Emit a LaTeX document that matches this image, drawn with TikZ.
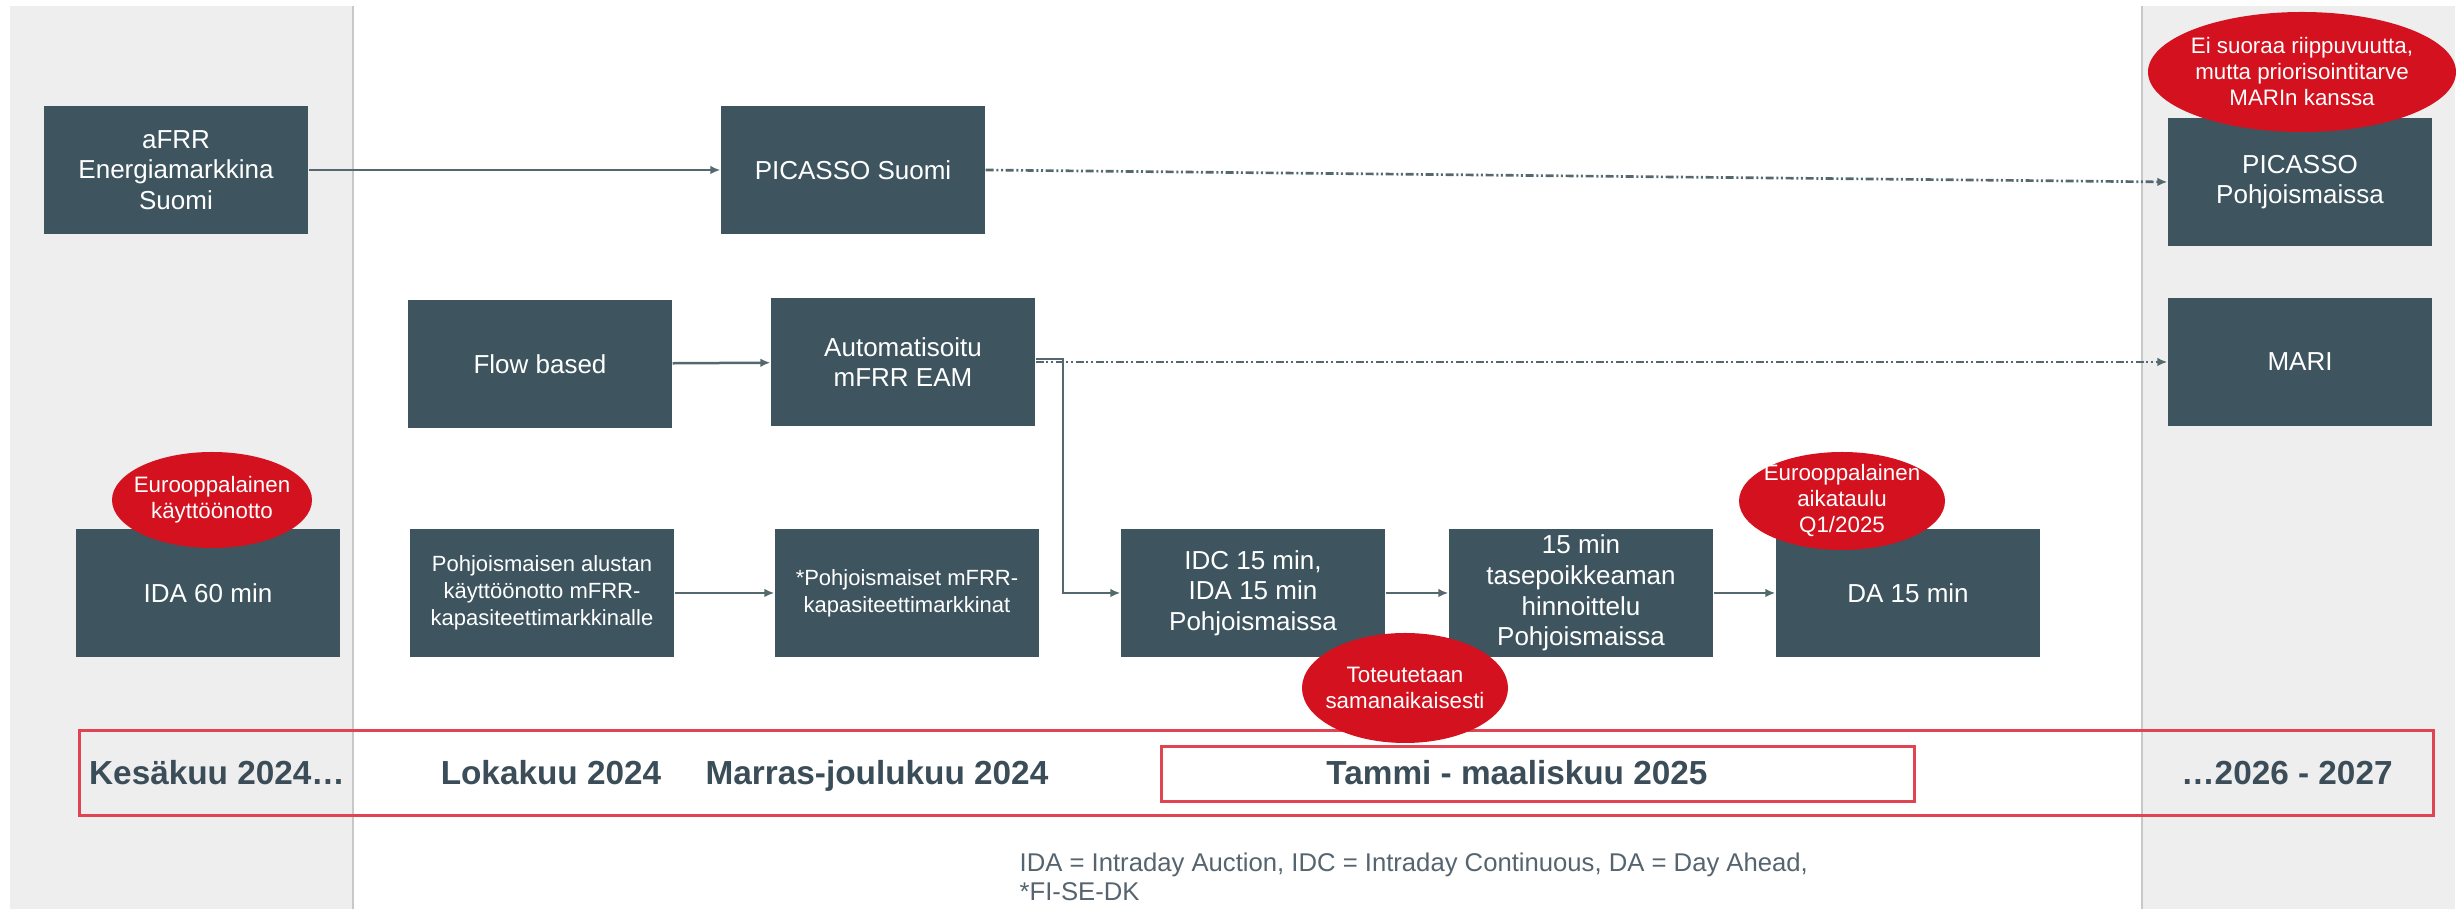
\documentclass[tikz,border=0pt]{standalone}
\usepackage{fontspec}
\setmainfont{Liberation Sans}
\usetikzlibrary{arrows.meta,shapes.geometric}
\definecolor{boxc}{HTML}{3E5560}
\definecolor{redc}{HTML}{D4111E}
\definecolor{rectc}{HTML}{E04452}
\definecolor{panel}{HTML}{EEEEEE}
\definecolor{panelline}{HTML}{C8C8C8}
\definecolor{linec}{HTML}{55686F}
\definecolor{tlc}{HTML}{3B4D58}
\definecolor{notec}{HTML}{55646E}
\begin{document}
\begin{tikzpicture}[x=0.3pt,y=-0.3pt,
 box/.style={fill=boxc, draw=none, minimum width=79.2pt, minimum height=38.4pt, inner sep=0pt, text=white, align=center, font=\fontsize{7.8}{9.2}\selectfont},
 smallbox/.style={box, font=\fontsize{6.6}{8.1}\selectfont},
 note/.style={ellipse, fill=redc, text=white, inner sep=-3pt, align=center, font=\fontsize{6.7}{7.8}\selectfont},
 arr/.style={draw=linec, line width=0.75pt, -{Latex[length=3pt,width=2.6pt]}},
 dda/.style={arr, line width=0.8pt, dash pattern=on 2.4pt off 0.8pt on 0.6pt off 0.8pt on 0.6pt off 0.8pt},
 tl/.style={text=tlc, inner sep=0pt, anchor=base, font=\fontsize{10}{12}\selectfont\bfseries},
 panelbox/.style={fill=panel, draw=none},
]
\useasboundingbox (0,0) rectangle (2463,909);
% panels
\fill[panelbox] (10,6) rectangle (353,909);
\draw[panelline, line width=0.6pt] (353,6) -- (353,909);
\fill[panelbox] (2142,6) rectangle (2455,909);
\draw[panelline, line width=0.6pt] (2142,6) -- (2142,909);
% timeline rectangles
\draw[rectc, line width=0.9pt] (79,731) rectangle (2433,816);
\draw[rectc, line width=0.9pt] (1161,747) rectangle (1914,802);
% boxes
\node[box] (afrr) at (176,170) {aFRR\\Energiamarkkina\\Suomi};
\node[box] (picS) at (853,170) {PICASSO Suomi};
\node[box] (picP) at (2300,182) {PICASSO\\Pohjoismaissa};
\node[box] (flow) at (540,364) {Flow based};
\node[box] (auto) at (903,362) {Automatisoitu\\mFRR EAM};
\node[box] (mari) at (2300,362) {MARI};
\node[box] (ida) at (208,593) {IDA 60 min};
\node[smallbox] (pohjA) at (542,593) {Pohjoismaisen alustan\\käyttöönotto mFRR-\\kapasiteettimarkkinalle};
\node[smallbox] (pohjM) at (907,593) {*Pohjoismaiset mFRR-\\kapasiteettimarkkinat};
\node[box] (idc) at (1253,593) {IDC 15 min,\\IDA 15 min\\Pohjoismaissa};
\node[box] (tase) at (1581,593) {15 min\\tasepoikkeaman\\hinnoittelu\\Pohjoismaissa};
\node[box] (da) at (1908,593) {DA 15 min};
% connectors
\draw[arr] (afrr) -- (picS);
\draw[arr] (flow) -- (auto);
\draw[arr] (pohjA) -- (pohjM);
\draw[arr] (idc) -- (tase);
\draw[arr] (tase) -- (da);
\draw[dda] (picS.east) -- (picP.west);
\draw[dda] (auto.east) -- (mari.west);
\coordinate (elb) at (1063,359);
\draw[arr] (auto.east |- elb) -- (elb) |- (idc.west);
% notes
\node[note, minimum width=92.4pt, minimum height=36pt] (n1) at (2302,72) {Ei suoraa riippuvuutta,\\mutta priorisointitarve\\MARIn kanssa};
\node[note, minimum width=60pt, minimum height=28.8pt] (n2) at (212,500) {Eurooppalainen\\käyttöönotto};
\node[note, minimum width=61.8pt, minimum height=29.4pt] (n3) at (1842,501) {Eurooppalainen\\aikataulu\\Q1/2025};
\node[note, minimum width=61.8pt, minimum height=33pt] (n4) at (1405,688) {Toteutetaan\\samanaikaisesti};
% timeline labels
\node[tl] (t1) at (217,785) {Kesäkuu 2024…};
\node[tl] (t2) at (551,785) {Lokakuu 2024};
\node[tl] (t3) at (877,785) {Marras-joulukuu 2024};
\node[tl] (t4) at (1517,785) {Tammi - maaliskuu 2025};
\node[tl] (t5) at (2287,785) {…2026 - 2027};
% footnote
\node[anchor=north west, inner sep=0pt, align=left, text=notec, font=\fontsize{7.7}{8.7}\selectfont] (fn) at (1019,852) {IDA = Intraday Auction, IDC = Intraday Continuous, DA = Day Ahead,\\*FI-SE-DK};
\end{tikzpicture}
\end{document}
